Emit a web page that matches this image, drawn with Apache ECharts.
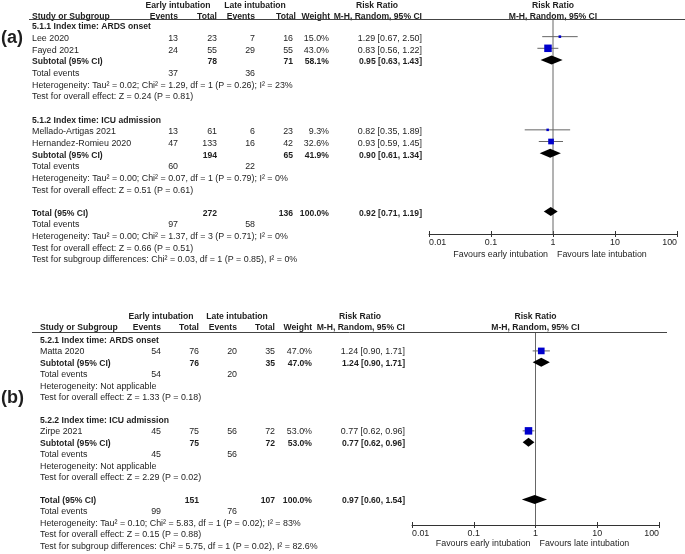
<!DOCTYPE html>
<html><head><meta charset="utf-8">
<script src="https://cdn.jsdelivr.net/npm/echarts@6/dist/echarts.min.js"></script>
<style>html,body{margin:0;padding:0;background:#fff}#c{width:685px;height:554px}</style>
</head><body><div id="c"></div><script>
// ---------------- Panel (a) data ----------------
const aSubgroups = ['5.1.1 Index time: ARDS onset', '5.1.2 Index time: ICU admission'];
const aStudies = [['Lee 2020', 'Fayed 2021'], ['Mellado-Artigas 2021', 'Hernandez-Romieu 2020']];
const aEarlyEvents = [[13, 24], [13, 47]];
const aEarlyTotal = [[23, 55], [61, 133]];
const aLateEvents = [[7, 29], [6, 16]];
const aLateTotal = [[16, 55], [23, 42]];
const aWeight = [[15.0, 43.0], [9.3, 32.6]];
const aRR = [[1.29, 0.83], [0.82, 0.93]];
const aLow = [[0.67, 0.56], [0.35, 0.59]];
const aHigh = [[2.50, 1.22], [1.89, 1.45]];
const aSubEarlyTotal = [78, 194];
const aSubLateTotal = [71, 65];
const aSubWeight = [58.1, 41.9];
const aSubRR = [0.95, 0.90];
const aSubLow = [0.63, 0.61];
const aSubHigh = [1.43, 1.34];
const aSubEarlyEvents = [37, 60];
const aSubLateEvents = [36, 22];
const aSubHet = ['Heterogeneity: Tau² = 0.02; Chi² = 1.29, df = 1 (P = 0.26); I² = 23%',
                 'Heterogeneity: Tau² = 0.00; Chi² = 0.07, df = 1 (P = 0.79); I² = 0%'];
const aSubTest = ['Test for overall effect: Z = 0.24 (P = 0.81)', 'Test for overall effect: Z = 0.51 (P = 0.61)'];
const aTotal = [272, 136, 100.0, 0.92, 0.71, 1.19]; // early total, late total, weight, RR, low, high
const aTotalEvents = [97, 58];
const aTotalHet = 'Heterogeneity: Tau² = 0.00; Chi² = 1.37, df = 3 (P = 0.71); I² = 0%';
const aTotalTest = 'Test for overall effect: Z = 0.66 (P = 0.51)';
const aSubDiff = 'Test for subgroup differences: Chi² = 0.03, df = 1 (P = 0.85), I² = 0%';

// ---------------- Panel (b) data ----------------
const bSubgroups = ['5.2.1 Index time: ARDS onset', '5.2.2 Index time: ICU admission'];
const bStudies = [['Matta 2020'], ['Zirpe 2021']];
const bEarlyEvents = [[54], [45]];
const bEarlyTotal = [[76], [75]];
const bLateEvents = [[20], [56]];
const bLateTotal = [[35], [72]];
const bWeight = [[47.0], [53.0]];
const bRR = [[1.24], [0.77]];
const bLow = [[0.90], [0.62]];
const bHigh = [[1.71], [0.96]];
const bSubEarlyTotal = [76, 75];
const bSubLateTotal = [35, 72];
const bSubWeight = [47.0, 53.0];
const bSubRR = [1.24, 0.77];
const bSubLow = [0.90, 0.62];
const bSubHigh = [1.71, 0.96];
const bSubEarlyEvents = [54, 45];
const bSubLateEvents = [20, 56];
const bSubHet = ['Heterogeneity: Not applicable', 'Heterogeneity: Not applicable'];
const bSubTest = ['Test for overall effect: Z = 1.33 (P = 0.18)', 'Test for overall effect: Z = 2.29 (P = 0.02)'];
const bTotal = [151, 107, 100.0, 0.97, 0.60, 1.54];
const bTotalEvents = [99, 76];
const bTotalHet = 'Heterogeneity: Tau² = 0.10; Chi² = 5.83, df = 1 (P = 0.02); I² = 83%';
const bTotalTest = 'Test for overall effect: Z = 0.15 (P = 0.88)';
const bSubDiff = 'Test for subgroup differences: Chi² = 5.75, df = 1 (P = 0.02), I² = 82.6%';

// ---------------- axis ticks ----------------
const tickValues = [0.01, 0.1, 1, 10, 100];
const tickLabels = ['0.01', '0.1', '1', '10', '100'];
const favourLabels = ['Favours early intubation', 'Favours late intubation'];

// ---------------- layout / style ----------------
const FONT = 'Arial, "Liberation Sans", sans-serif';
const FS = 8.9;      // regular text
const FSB = 8.6;     // bold text
const TXT = '#1e1e1e';
const W = 685, H = 554;

const layoutA = {label: '(a)', y0: 27, dy: 11.65, head1: 5.5, head2: 16.5, rule: 19.5, axisY: 234,
  studyX: 32, cols: {ee: 178, et: 217, le: 255, lt: 293, w: 329, rr: 422}, headLt: 296, headW: 330,
  forestLeft: 429, forestWidth: 248, ruleX0: 29, ruleX1: 685, labelX: 1, labelY: 38, shift: -2, favY: 254.5};
const layoutB = {label: '(b)', y0: 340.5, dy: 11.42, head1: 317, head2: 328, rule: 332, axisY: 525,
  studyX: 40, cols: {ee: 161, et: 199, le: 237, lt: 275, w: 312, rr: 405}, headLt: 275, headW: 312,
  forestLeft: 412, forestWidth: 247, ruleX0: 32, ruleX1: 667, labelX: 1, labelY: 398.5, shift: -1, favY: 543.5};

const dataA = {subgroups: aSubgroups, studies: aStudies, ee: aEarlyEvents, et: aEarlyTotal, le: aLateEvents, lt: aLateTotal,
  w: aWeight, rr: aRR, lo: aLow, hi: aHigh, sEt: aSubEarlyTotal, sLt: aSubLateTotal, sW: aSubWeight, sRR: aSubRR,
  sLo: aSubLow, sHi: aSubHigh, sEe: aSubEarlyEvents, sLe: aSubLateEvents, sHet: aSubHet, sTest: aSubTest,
  total: aTotal, totalEvents: aTotalEvents, totalHet: aTotalHet, totalTest: aTotalTest, diff: aSubDiff};
const dataB = {subgroups: bSubgroups, studies: bStudies, ee: bEarlyEvents, et: bEarlyTotal, le: bLateEvents, lt: bLateTotal,
  w: bWeight, rr: bRR, lo: bLow, hi: bHigh, sEt: bSubEarlyTotal, sLt: bSubLateTotal, sW: bSubWeight, sRR: bSubRR,
  sLo: bSubLow, sHi: bSubHigh, sEe: bSubEarlyEvents, sLe: bSubLateEvents, sHet: bSubHet, sTest: bSubTest,
  total: bTotal, totalEvents: bTotalEvents, totalHet: bTotalHet, totalTest: bTotalTest, diff: bSubDiff};

const fmtRR = (r, l, h) => r.toFixed(2) + ' [' + l.toFixed(2) + ', ' + h.toFixed(2) + ']';
const fmtW = w => w.toFixed(1) + '%';

function buildPanel(D, L) {
  const cells = [];
  const marks = [];
  const rowOf = px => (px - L.y0) / L.dy;
  const C = L.cols;
  const add = (x, row, text, align, bold, size, kind, x2) =>
    cells.push({x, row, text: String(text), align, bold: !!bold, size: size || (bold ? FSB : FS), kind: kind || 'text', x2});
  const forestMid = L.forestLeft + L.forestWidth / 2;
  const h1 = rowOf(L.head1), h2 = rowOf(L.head2);
  add(C.ee, h1, 'Early intubation', 'center', true);
  add(C.le, h1, 'Late intubation', 'center', true);
  add(C.rr - 45, h1, 'Risk Ratio', 'center', true);
  add(forestMid, h1, 'Risk Ratio', 'center', true);
  add(L.studyX, h2, 'Study or Subgroup', 'left', true);
  add(C.ee, h2, 'Events', 'right', true);
  add(C.et, h2, 'Total', 'right', true);
  add(C.le, h2, 'Events', 'right', true);
  add(L.headLt, h2, 'Total', 'right', true);
  add(L.headW, h2, 'Weight', 'right', true);
  add(C.rr, h2, 'M-H, Random, 95% CI', 'right', true);
  add(forestMid, h2, 'M-H, Random, 95% CI', 'center', true);
  add(L.ruleX0, rowOf(L.rule), '', 'left', false, FS, 'rule', L.ruleX1);
  add(L.labelX, rowOf(L.labelY), L.label, 'left', true, 18);

  let r = 0;
  D.subgroups.forEach((g, gi) => {
    add(L.studyX, r, g, 'left', true); r++;
    D.studies[gi].forEach((s, si) => {
      add(L.studyX, r, s, 'left');
      add(C.ee, r, D.ee[gi][si], 'right');
      add(C.et, r, D.et[gi][si], 'right');
      add(C.le, r, D.le[gi][si], 'right');
      add(C.lt, r, D.lt[gi][si], 'right');
      add(C.w, r, fmtW(D.w[gi][si]), 'right');
      add(C.rr, r, fmtRR(D.rr[gi][si], D.lo[gi][si], D.hi[gi][si]), 'right');
      marks.push([D.rr[gi][si], r, D.lo[gi][si], D.hi[gi][si], D.w[gi][si], 0]);
      r++;
    });
    add(L.studyX, r, 'Subtotal (95% CI)', 'left', true);
    add(C.et, r, D.sEt[gi], 'right', true);
    add(C.lt, r, D.sLt[gi], 'right', true);
    add(C.w, r, fmtW(D.sW[gi]), 'right', true);
    add(C.rr, r, fmtRR(D.sRR[gi], D.sLo[gi], D.sHi[gi]), 'right', true);
    marks.push([D.sRR[gi], r, D.sLo[gi], D.sHi[gi], D.sW[gi], 1]);
    r++;
    add(L.studyX, r, 'Total events', 'left');
    add(C.ee, r, D.sEe[gi], 'right');
    add(C.le, r, D.sLe[gi], 'right');
    r++;
    add(L.studyX, r, D.sHet[gi], 'left'); r++;
    add(L.studyX, r, D.sTest[gi], 'left'); r++;
    r++;
  });
  const T = D.total;
  add(L.studyX, r, 'Total (95% CI)', 'left', true);
  add(C.et, r, T[0], 'right', true);
  add(C.lt, r, T[1], 'right', true);
  add(C.w, r, fmtW(T[2]), 'right', true);
  add(C.rr, r, fmtRR(T[3], T[4], T[5]), 'right', true);
  marks.push([T[3], r, T[4], T[5], T[2], 1]);
  r++;
  add(L.studyX, r, 'Total events', 'left');
  add(C.ee, r, D.totalEvents[0], 'right');
  add(C.le, r, D.totalEvents[1], 'right');
  r++;
  add(L.studyX, r, D.totalHet, 'left'); r++;
  add(L.studyX, r, D.totalTest, 'left'); r++;
  add(L.studyX, r, D.diff, 'left'); r++;

  const fav = [
    {x: 1, row: rowOf(L.favY), text: favourLabels[0], align: 'right', dx: -5},
    {x: 1, row: rowOf(L.favY), text: favourLabels[1], align: 'left', dx: 4}
  ];
  return {cells, marks, fav,
    textYMin: rowOf(0), textYMax: rowOf(H),
    forestYMin: rowOf(L.rule), forestYMax: rowOf(L.axisY)};
}

const panels = [[dataA, layoutA], [dataB, layoutB]];
const option = {backgroundColor: '#fff', animation: false, grid: [], xAxis: [], yAxis: [], series: []};

panels.forEach(([D, L], pi) => {
  const P = buildPanel(D, L);
  const maxW = Math.max(...P.marks.filter(m => m[5] === 0).map(m => m[4]));
  const gText = option.grid.length;
  option.grid.push({left: 0, top: 0, width: W, height: H, outerBoundsMode: 'none', containLabel: false});
  const gFor = option.grid.length;
  option.grid.push({left: L.forestLeft, top: L.rule, width: L.forestWidth, height: L.axisY - L.rule,
    outerBoundsMode: 'none', containLabel: false});

  const xText = option.xAxis.length;
  option.xAxis.push({type: 'value', gridIndex: gText, min: 0, max: W, show: false});
  const xFor = option.xAxis.length;
  option.xAxis.push({type: 'log', logBase: 10, gridIndex: gFor, min: 0.01, max: 100, position: 'bottom',
    axisLine: {show: true, onZero: false, lineStyle: {color: '#333', width: 1}},
    axisTick: {show: true, length: 3, lineStyle: {color: '#333'}},
    splitLine: {show: false}, minorTick: {show: false},
    axisLabel: {show: true, margin: 4, fontSize: FS, fontFamily: FONT, color: TXT,
      alignMinLabel: 'left', alignMaxLabel: 'right',
      formatter: v => {
        const i = tickValues.findIndex(t => Math.abs(Math.log10(t) - Math.log10(v)) < 1e-6);
        return i >= 0 ? tickLabels[i] : '';
      }}});
  option.xAxis.push({type: 'log', logBase: 10, gridIndex: gFor, min: 0.01, max: 100, position: 'bottom',
    axisLine: {show: false, onZero: false}, axisLabel: {show: false}, splitLine: {show: false},
    axisTick: {show: true, inside: true, length: 3, lineStyle: {color: '#333'}}});

  const yText = option.yAxis.length;
  option.yAxis.push({type: 'value', gridIndex: gText, inverse: true, min: P.textYMin, max: P.textYMax, show: false});
  const yFor = option.yAxis.length;
  option.yAxis.push({type: 'value', gridIndex: gFor, inverse: true, min: P.forestYMin, max: P.forestYMax, show: false});

  // table text
  option.series.push({
    type: 'custom', xAxisIndex: xText, yAxisIndex: yText, silent: true, clip: false,
    data: P.cells.map(c => [c.x, c.row]),
    renderItem: (params, api) => {
      const c = P.cells[params.dataIndex];
      const p = api.coord([api.value(0), api.value(1)]);
      if (c.kind === 'rule') {
        const p2 = api.coord([c.x2, api.value(1)]);
        return {type: 'line', shape: {x1: p[0], y1: Math.round(p[1]) + 0.5, x2: p2[0], y2: Math.round(p[1]) + 0.5},
          style: {stroke: '#444', lineWidth: 1}};
      }
      return {type: 'text', x: p[0], y: p[1],
        style: {text: c.text, fill: TXT, fontSize: c.size, fontFamily: FONT, fontWeight: c.bold ? 'bold' : 'normal',
          align: c.align, verticalAlign: 'middle'}};
    }
  });

  // reference line at RR = 1
  option.series.push({
    type: 'line', xAxisIndex: xFor, yAxisIndex: yFor, silent: true, symbol: 'none', z: 1,
    data: [[1, P.forestYMin], [1, P.forestYMax]],
    lineStyle: {color: '#666', width: 1}
  });

  // CI lines, squares, diamonds
  option.series.push({
    type: 'custom', xAxisIndex: xFor, yAxisIndex: yFor, silent: true, clip: false, z: 5,
    encode: {x: 0, y: 1},
    data: P.marks,
    renderItem: (params, api) => {
      const est = api.value(0), row = api.value(1), lo = api.value(2), hi = api.value(3), w = api.value(4), kind = api.value(5);
      const pe = api.coord([est, row]), pl = api.coord([lo, row]), ph = api.coord([hi, row]);
      const y = pe[1] + L.shift;
      if (kind === 0) {
        const s = Math.max(2.5, 7.5 * w / maxW);
        return {type: 'group', children: [
          {type: 'line', shape: {x1: pl[0], y1: y, x2: ph[0], y2: y}, style: {stroke: '#666', lineWidth: 1}},
          {type: 'rect', shape: {x: pe[0] - s / 2, y: y - s / 2, width: s, height: s}, style: {fill: '#0000CC'}}
        ]};
      }
      return {type: 'polygon', shape: {points: [[pl[0], y], [pe[0], y - 4.5], [ph[0], y], [pe[0], y + 4.5]]},
        style: {fill: '#000'}};
    }
  });

  // favours labels
  option.series.push({
    type: 'custom', xAxisIndex: xFor, yAxisIndex: yFor, silent: true, clip: false,
    data: P.fav.map(f => [f.x, f.row]),
    renderItem: (params, api) => {
      const f = P.fav[params.dataIndex];
      const p = api.coord([api.value(0), api.value(1)]);
      return {type: 'text', x: p[0] + f.dx, y: p[1],
        style: {text: f.text, fill: TXT, fontSize: FS, fontFamily: FONT, align: f.align, verticalAlign: 'middle'}};
    }
  });
});

const chart = echarts.init(document.getElementById('c'), null, {renderer: 'canvas'});
chart.setOption(option);
</script></body></html>
